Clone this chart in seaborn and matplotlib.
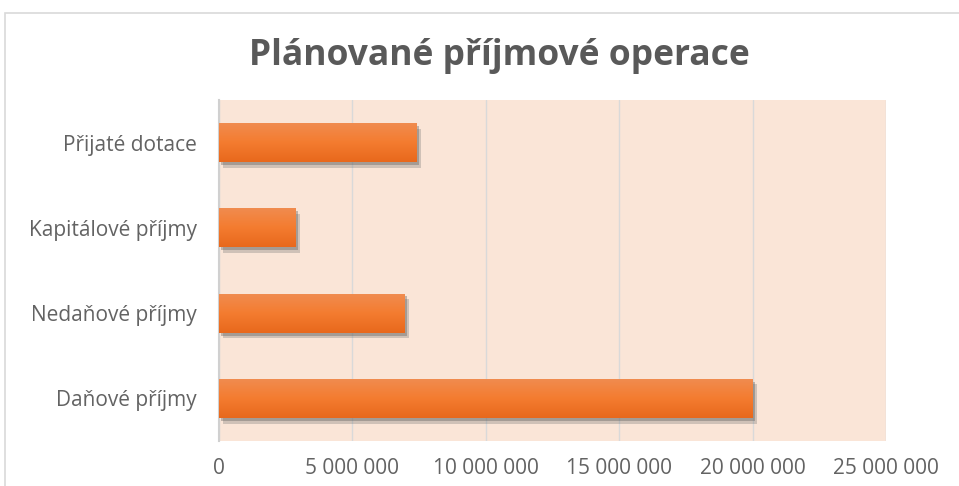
import numpy as np
import pandas as pd
import matplotlib
matplotlib.use("Agg")
import matplotlib.pyplot as plt
import matplotlib.patheffects as pe
from matplotlib.colors import LinearSegmentedColormap
from matplotlib.patches import Rectangle
from matplotlib.ticker import FuncFormatter
import seaborn as sns

# ── data ──────────────────────────────────────────────────────────────────────
categories = ["Přijaté dotace", "Kapitálové příjmy", "Nedaňové příjmy", "Daňové příjmy"]
values = [7_420_000, 2_880_000, 6_970_000, 20_010_000]
x_ticks = [0, 5_000_000, 10_000_000, 15_000_000, 20_000_000, 25_000_000]
title = "Plánované příjmové operace"

df = pd.DataFrame({"kategorie": categories, "hodnota": values})

sns.set_theme(style="white")
plt.rcParams["font.family"] = ["Open Sans", "DejaVu Sans"]

fig = plt.figure(figsize=(9.59, 4.86), dpi=100)
ax = fig.add_axes([219 / 959, 1 - 441 / 486, 667 / 959, 341 / 486])

# outer chart frame (cropped on right / bottom)
fig.patches.append(Rectangle((5 / 959, -0.1), 1.2, 1 - 13 / 486 + 0.1,
                             transform=fig.transFigure, fill=False,
                             edgecolor="#D9D9D9", linewidth=1.2, zorder=0))

ax.set_facecolor("#FAE5D7")
sns.barplot(data=df, x="hodnota", y="kategorie", orient="h", color="#F27A2D",
            width=0.46, saturation=1, linewidth=0, ax=ax, zorder=3)

# gradient fill + soft shadow on each bar
grad = LinearSegmentedColormap.from_list("g", ["#E8681C", "#F47C30", "#F08C50"])
for p in ax.patches:
    p.set_edgecolor("none")
    p.set_path_effects([pe.SimplePatchShadow(offset=(3, -4), shadow_rgbFace="#6E6E6E",
                                             alpha=0.3),
                        pe.SimplePatchShadow(offset=(1.5, -2), shadow_rgbFace="#555555",
                                             alpha=0.35),
                        pe.Normal()])
    x0, y0 = p.get_x(), p.get_y()
    w, h = p.get_width(), p.get_height()
    im = ax.imshow(np.linspace(0, 1, 50).reshape(-1, 1), cmap=grad, aspect="auto",
                   extent=(x0, x0 + w, y0 + h, y0), origin="lower", zorder=4)
    im.set_clip_path(p)

ax.set_xlim(0, 25_000_000)
ax.set_ylim(3.5, -0.5)
ax.set_xticks(x_ticks)
ax.xaxis.set_major_formatter(FuncFormatter(lambda v, _: f"{int(v):,}".replace(",", " ")))
ax.grid(axis="x", color="#D9D9D9", linewidth=1, zorder=1)
ax.set_axisbelow(True)

for s in ["top", "right", "bottom"]:
    ax.spines[s].set_visible(False)
ax.spines["left"].set_color("#D0D0D0")
ax.spines["left"].set_linewidth(1.5)

ax.tick_params(axis="y", length=0, pad=16, labelsize=15, labelcolor="#636363")
ax.tick_params(axis="x", length=0, pad=12, labelsize=15, labelcolor="#636363")
ax.set_xlabel("")
ax.set_ylabel("")

fig.text(499 / 959, 1 - 56 / 486, title, ha="center", va="center", fontsize=25.5,
         fontweight="bold", color="#595959")

fig.savefig("out.png", dpi=100)
